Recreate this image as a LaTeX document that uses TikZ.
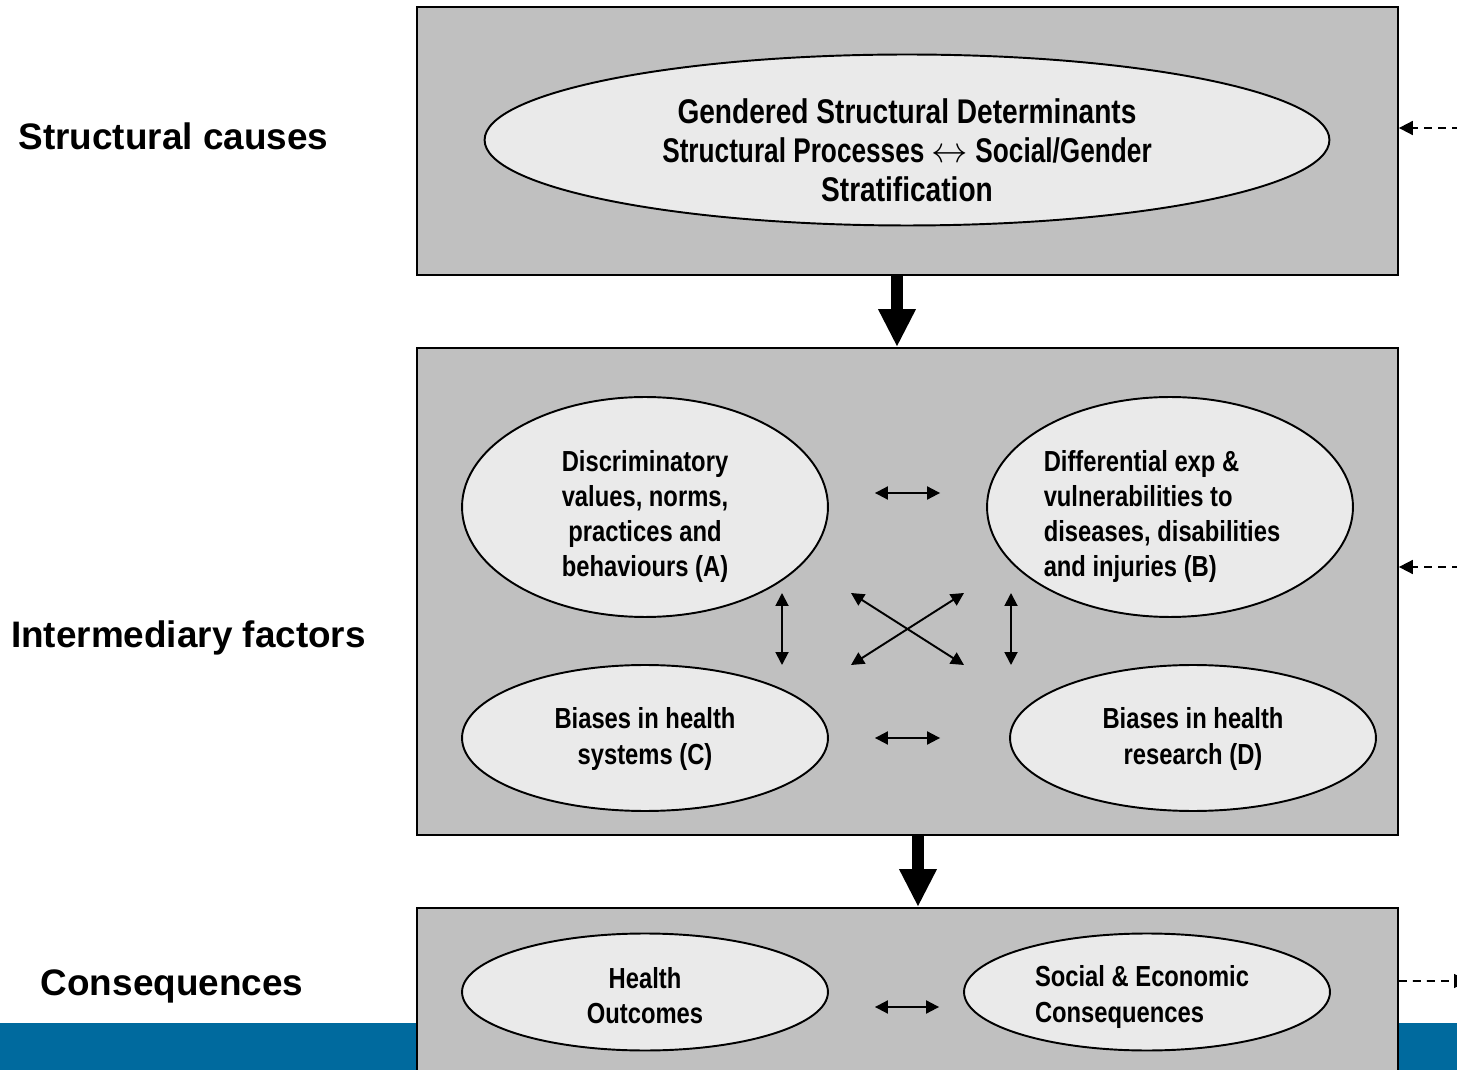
\documentclass[tikz,border=0pt]{standalone}
\usepackage{fontspec}
\setmainfont{Liberation Sans}
\newfontfamily\narrowsf[FakeStretch=0.82]{Liberation Sans}
\newfontfamily\narrowersf[FakeStretch=0.765]{Liberation Sans}
\usepackage{tikz}
\usetikzlibrary{shapes.geometric,arrows.meta,positioning,calc}
\definecolor{boxgray}{RGB}{192,192,192}
\definecolor{ovalgray}{RGB}{234,234,234}
\definecolor{bandblue}{RGB}{0,106,158}
\tikzset{
    level/.style={rectangle, draw, line width=1.1pt, fill=boxgray, minimum width=19.62cm, inner sep=0pt},
    factor/.style={ellipse, draw, line width=1.1pt, fill=ovalgray, minimum width=7.32cm, inner sep=0pt},
    factortext/.style={inner sep=0pt, align=center, font=\narrowsf\bfseries\fontsize{16.5}{20}\selectfont},
    tag/.style={font=\bfseries\fontsize{21}{25}\selectfont},
    link/.style={draw, line width=1.1pt, {Triangle[length=0.26cm,width=0.26cm]}-{Triangle[length=0.26cm,width=0.26cm]}},
    flow/.style={draw, line width=6.8pt, -{Triangle[length=0.76cm,width=0.7cm]}},
    feedback/.style={draw, line width=1pt, dash pattern=on 4.5pt off 3.5pt, -{Triangle[length=0.28cm,width=0.28cm]}}
}
\begin{document}
\begin{tikzpicture}[x=0.02cm, y=-0.02cm]
    \clip (0,0) rectangle (1457,1070);
    % blue band at the bottom
    \fill[bandblue] (0,1023) rectangle (1457,1070);

    % Levels
    \node [level, minimum height=5.36cm] (top) at (907.5,141) {};
    \node [level, minimum height=9.74cm] (mid) at (907.5,591.5) {};
    \node [level, minimum height=4cm] (bot) at (907.5,1008) {};

    % Side labels
    \node [tag] (lstruct) at (173.5,136) {Structural causes};
    \node [tag] (linter) at (188.5,638) {Intermediary factors};
    \node [tag] (lcons) at (172,986) {Consequences};

    % Structural determinants
    \node [factor, minimum width=16.9cm, minimum height=3.42cm] (gsd) at (907,140) {};
    \node [factortext, font=\narrowsf\bfseries\fontsize{19.5}{22.2}\selectfont] (gsd text) at ([yshift=-0.2cm]gsd.center)
        {Gendered Structural Determinants\\{\narrowersf\bfseries Structural Processes $\leftrightarrow$ Social/Gender}\\Stratification};

    % Intermediary factors
    \node [factor, minimum height=4.4cm] (fa) at (645,507) {};
    \node [factor, minimum height=4.4cm] (fb) at (1170,507) {};
    \node [factor, minimum height=2.92cm] (fc) at (645,738) {};
    \node [factor, minimum height=2.92cm] (fd) at (1193,738) {};
    \node [factortext] (fa text) at ([yshift=-0.19cm]fa.center) {Discriminatory\\values, norms,\\practices and\\behaviours (A)};
    \node [factortext, align=left] (fb text) at ([xshift=-0.16cm, yshift=-0.19cm]fb.center) {Differential exp \&\\vulnerabilities to\\diseases, disabilities\\and injuries (B)};
    \node [factortext] (fc text) at ([yshift=-0.02cm]fc.center) {Biases in health\\systems (C)};
    \node [factortext] (fd text) at ([yshift=-0.02cm]fd.center) {Biases in health\\research (D)};

    % Consequences
    \node [factor, minimum height=2.34cm] (health) at (645,992) {};
    \node [factor, minimum height=2.34cm] (social) at (1147,992) {};
    \node [factortext] (health text) at ([yshift=-0.07cm]health.center) {Health\\Outcomes};
    \node [factortext, align=left] (social text) at ([xshift=-0.1cm, yshift=-0.1cm]social.center) {Social \& Economic\\Consequences};

    % Main flow
    \draw [flow] ([xshift=-0.21cm]top.south) -- ([xshift=-0.21cm]mid.north);
    \draw [flow] ([xshift=0.21cm]mid.south) -- ([xshift=0.21cm]bot.north);

    % Links between factors
    \draw [link, shorten <=0.92cm, shorten >=0.92cm] ([yshift=0.28cm]fa.east) -- ([yshift=0.28cm]fb.west);
    \draw [link, shorten <=0.92cm, shorten >=1.38cm] (fc.east) -- (fd.west);
    \draw [link, shorten <=0.92cm, shorten >=0.48cm] ([yshift=-0.3cm]health.east) -- ([yshift=-0.3cm]social.west);
    \coordinate (ac1) at (782,593);
    \coordinate (ac2) at (782,665);
    \coordinate (bd1) at (1011,593);
    \coordinate (bd2) at (1011,665);
    \coordinate (xa) at (851,593);
    \coordinate (xb) at (964,593);
    \coordinate (xc) at (851,665);
    \coordinate (xd) at (964,665);
    \draw [link] (ac1) -- (ac2);
    \draw [link] (bd1) -- (bd2);
    \draw [link] (xa) -- (xd);
    \draw [link] (xb) -- (xc);

    % Feedback
    \coordinate (fb1) at (1460,128);
    \coordinate (fb2) at (1460,567);
    \coordinate (fb3) at (1468,981);
    \draw [feedback] (fb1) -- ([yshift=0.26cm]top.east);
    \draw [feedback] (fb2) -- ([yshift=0.49cm]mid.east);
    \draw [feedback] ([yshift=0.54cm]bot.east) -- (fb3);
\end{tikzpicture}
\end{document}
